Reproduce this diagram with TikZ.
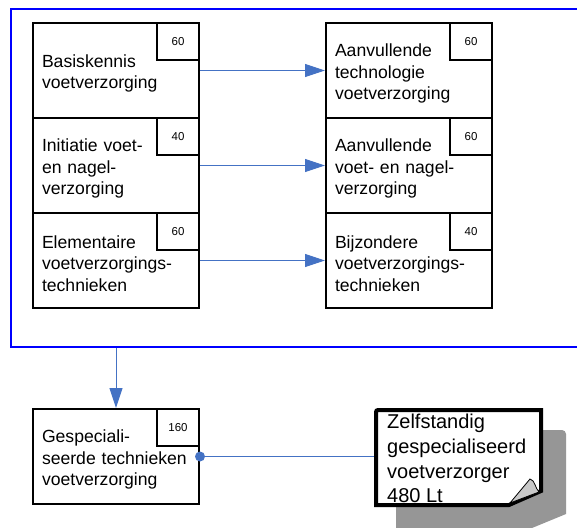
\documentclass[tikz,border=0pt]{standalone}
\usepackage{fontspec}
\setmainfont{Liberation Sans}
\usetikzlibrary{arrows.meta}
\definecolor{conncol}{RGB}{68,114,196}
\definecolor{framecol}{RGB}{0,0,255}
\definecolor{shadowcol}{RGB}{150,150,150}
\definecolor{foldcol}{RGB}{200,200,200}
\newcommand{\topstrut}{\rule{0pt}{19pt}}
\begin{document}
\begin{tikzpicture}[x=1pt,y=-1pt,
 box/.style={draw, line width=2pt, minimum width=166pt, minimum height=95pt, text width=148pt, inner xsep=9pt, inner ysep=0pt, align=left, font=\fontsize{17.6}{21.5}\selectfont},
 numbox/.style={draw, line width=2pt, minimum width=42pt, minimum height=37pt, inner sep=0pt, anchor=north east, font=\fontsize{11.5}{13}\selectfont},
 connarrow/.style={draw=conncol, line width=1pt, -{Triangle[length=20pt,width=13pt]}},
 connline/.style={draw=conncol, line width=1pt},
]
\useasboundingbox (0,0) rectangle (577,527);
\fill[white] (0,0) rectangle (577,527);
% frame
\node[draw=framecol, line width=2pt, minimum width=590pt, minimum height=338pt, inner sep=0pt, anchor=north west] (grp) at (10,8) {};
% left boxes
\node[box] (l1) at (116,70.5) {\topstrut Basiskennis\\voetverzorging};
\node[box] (l2) at (116,165.5) {\topstrut Initiatie voet-\\en nagel-\\verzorging};
\node[box] (l3) at (116,260.5) {\topstrut Elementaire\\voetverzorgings-\\technieken};
% right boxes
\node[box] (r1) at (409,70.5) {\topstrut Aanvullende\\technologie\\voetverzorging};
\node[box] (r2) at (409,165.5) {\topstrut Aanvullende\\voet- en nagel-\\verzorging};
\node[box] (r3) at (409,260.5) {\topstrut Bijzondere\\voetverzorgings-\\technieken};
% bottom box
\node[box] (g) at (116,456.5) {\topstrut Gespeciali-\\seerde technieken\\voetverzorging};
% number boxes
\node[numbox] (n1) at (l1.north east) {60};
\node[numbox] (n2) at (l2.north east) {40};
\node[numbox] (n3) at (l3.north east) {60};
\node[numbox] (m1) at (r1.north east) {60};
\node[numbox] (m2) at (r2.north east) {60};
\node[numbox] (m3) at (r3.north east) {40};
\node[numbox] (ng) at (g.north east) {160};
% arrows
\draw[connarrow] (l1) -- (r1);
\draw[connarrow] (l2) -- (r2);
\draw[connarrow] (l3) -- (r3);
\draw[connarrow] (g.north |- grp.south) -- (g.north);
% note
\node[minimum width=169pt, minimum height=99pt, inner sep=0pt] (note) at (458.5,457) {};
\fill[shadowcol] (396,430) -- (562,430) to[out=0,in=90] (566,434) -- (566,514) -- (532,528) -- (396,528) -- cycle;
\draw[line width=4pt, fill=white, line join=miter] (376,412) to[out=90,in=180] (378,410) -- (541,410) -- (541,491) -- (509,505) -- (376,505) -- cycle;
\draw[line width=0.8pt, fill=foldcol] (510,503) -- (530,479) .. controls (535,480) and (535,488) .. (539,492) -- cycle;
\draw[connline] (g.east) -- (g.east -| note.west);
\fill[conncol] (g.east) circle (5pt);
\node[anchor=north west, inner sep=0pt, align=left, font=\fontsize{20}{24.7}\selectfont] (notetext) at (387,414) {Zelfstandig\\gespecialiseerd\\voetverzorger\\480 Lt};
\end{tikzpicture}
\end{document}
